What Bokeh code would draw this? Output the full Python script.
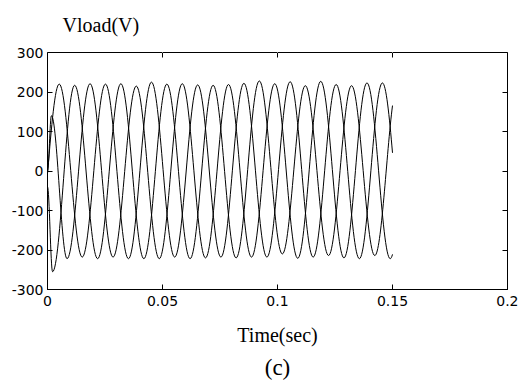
from bokeh.plotting import figure
from bokeh.models import LinearAxis, FixedTicker, Title
from bokeh.embed import file_html
from bokeh.resources import INLINE

# ---- data: successive extrema (time in s, voltage in V) of each phase
phase_a_t = [-0.0049, 0.0051, 0.0151, 0.0252, 0.0352, 0.0452, 0.0553, 0.0653, 0.0754,
             0.0854, 0.0954, 0.1055, 0.1155, 0.1255, 0.1356, 0.1456, 0.1557]
phase_a_v = [-220, 220, -218, 220, -222, 225, -218, 218, -218,
             222, -218, 226, -218, 219, -222, 223, -220]

phase_b_t = [0.0, 0.0022, 0.0118, 0.0218, 0.0319, 0.0419, 0.0519, 0.0620, 0.0720,
             0.0820, 0.0921, 0.1021, 0.1121, 0.1222, 0.1322, 0.1423, 0.1523]
phase_b_v = [-40, -255, 217, -222, 221, -222, 220, -222, 217,
             -220, 228, -210, 216, -214, 216, -214, 220]

phase_c_t = [0.0, 0.0017, 0.0085, 0.0185, 0.0285, 0.0386, 0.0486, 0.0586, 0.0687,
             0.0787, 0.0887, 0.0988, 0.1088, 0.1188, 0.1289, 0.1389, 0.1490, 0.1590]
phase_c_v = [0, 140, -222, 221, -218, 215, -222, 221, -220,
             219, -218, 221, -221, 227, -220, 223, -222, 220]

t_end = 0.15  # end of the simulated record

x_ticks = [0, 0.05, 0.1, 0.15, 0.2]
x_tick_labels = ["0", "0.05", "0.1", "0.15", "0.2"]
y_ticks = [-300, -200, -100, 0, 100, 200, 300]
y_tick_labels = ["-300", "-200", "-100", "0", "100", "200", "300"]

title_text = "Vload(V)"
xlabel_text = "Time(sec)"
panel_text = "(c)"


def _lerp(p, q, s):
    return (p[0] + (q[0] - p[0]) * s, p[1] + (q[1] - p[1]) * s)


def _bez(P, s):
    a = _lerp(P[0], P[1], s); b = _lerp(P[1], P[2], s); c = _lerp(P[2], P[3], s)
    d = _lerp(a, b, s); e = _lerp(b, c, s)
    return _lerp(d, e, s), (P[0], a, d, _lerp(d, e, s))


def half_waves(ts, vs, stop, k=0.3634):
    """One cubic Bezier mark per half-wave between two successive extrema."""
    cols = {n: [] for n in ("x0", "y0", "x1", "y1", "cx0", "cy0", "cx1", "cy1")}
    for i in range(len(ts) - 1):
        a, b = ts[i], ts[i + 1]
        if a >= stop:
            break
        va, vb = vs[i], vs[i + 1]
        P = [(a, va), (a + k * (b - a), va), (b - k * (b - a), vb), (b, vb)]
        if b > stop:
            lo, hi = 0.0, 1.0
            for _ in range(60):
                mid = 0.5 * (lo + hi)
                if _bez(P, mid)[0][0] < stop:
                    lo = mid
                else:
                    hi = mid
            P = list(_bez(P, 0.5 * (lo + hi))[1])
        cols["x0"].append(P[0][0]); cols["y0"].append(P[0][1])
        cols["cx0"].append(P[1][0]); cols["cy0"].append(P[1][1])
        cols["cx1"].append(P[2][0]); cols["cy1"].append(P[2][1])
        cols["x1"].append(P[3][0]); cols["y1"].append(P[3][1])
    return cols


serif = "Liberation Serif"

p = figure(width=518, height=383, x_range=(0, 0.2), y_range=(-300, 300),
           output_backend="svg", toolbar_location=None,
           min_border_left=47, min_border_right=11, min_border_top=52, min_border_bottom=92)
p.background_fill_color = "white"
p.border_fill_color = "white"
p.outline_line_color = "black"
p.outline_line_width = 1
p.xgrid.visible = False
p.ygrid.visible = False

for ts, vs in ((phase_a_t, phase_a_v), (phase_b_t, phase_b_v), (phase_c_t, phase_c_v)):
    c = half_waves(ts, vs, t_end)
    p.bezier(x0=c["x0"], y0=c["y0"], x1=c["x1"], y1=c["y1"],
             cx0=c["cx0"], cy0=c["cy0"], cx1=c["cx1"], cy1=c["cy1"],
             line_color="black", line_width=1)

tick_font = "DejaVu Sans"
tick_size = "14px"


def style_axis(ax, ticks, labels, show_labels):
    ax.ticker = FixedTicker(ticks=ticks)
    ax.major_label_overrides = {t: (l if show_labels else "") for t, l in zip(ticks, labels)}
    ax.major_tick_in = 5
    ax.major_tick_out = 0
    ax.minor_tick_in = 0
    ax.minor_tick_out = 0
    ax.axis_line_color = "black"
    ax.major_tick_line_color = "black"
    ax.major_label_text_font = tick_font
    ax.major_label_text_color = "black"
    ax.major_label_text_font_size = tick_size
    if not show_labels:
        ax.major_label_standoff = 0


style_axis(p.xaxis[0], x_ticks, x_tick_labels, True)
p.xaxis[0].major_label_standoff = 6
p.xaxis[0].axis_label = xlabel_text
p.xaxis[0].axis_label_text_font = serif
p.xaxis[0].axis_label_text_font_size = "20px"
p.xaxis[0].axis_label_text_font_style = "normal"
p.xaxis[0].axis_label_text_color = "black"
p.xaxis[0].axis_label_standoff = 15

style_axis(p.yaxis[0], y_ticks, y_tick_labels, True)
p.yaxis[0].major_label_standoff = 4

top = LinearAxis()
style_axis(top, x_ticks, x_tick_labels, False)
p.add_layout(top, "above")

# blank spacer between the top ticks and the title (white outward ticks only)
spacer = LinearAxis()
style_axis(spacer, x_ticks, x_tick_labels, False)
spacer.axis_line_color = None
spacer.major_tick_in = 0
spacer.major_tick_out = 13
spacer.major_tick_line_color = "white"
p.add_layout(spacer, "above")

right = LinearAxis()
style_axis(right, y_ticks, y_tick_labels, False)
p.add_layout(right, "right")

p.title.text = title_text
p.title.align = "left"
p.title.offset = 15
p.title.text_font = serif
p.title.text_font_size = "20px"
p.title.text_font_style = "normal"
p.title.text_color = "black"
p.title.standoff = 8

p.add_layout(Title(text=panel_text, align="center", text_font=serif, text_font_size="23px",
                   text_font_style="normal", text_color="black", standoff=8), "below")

open("out.html", "w").write(file_html(p, INLINE))
